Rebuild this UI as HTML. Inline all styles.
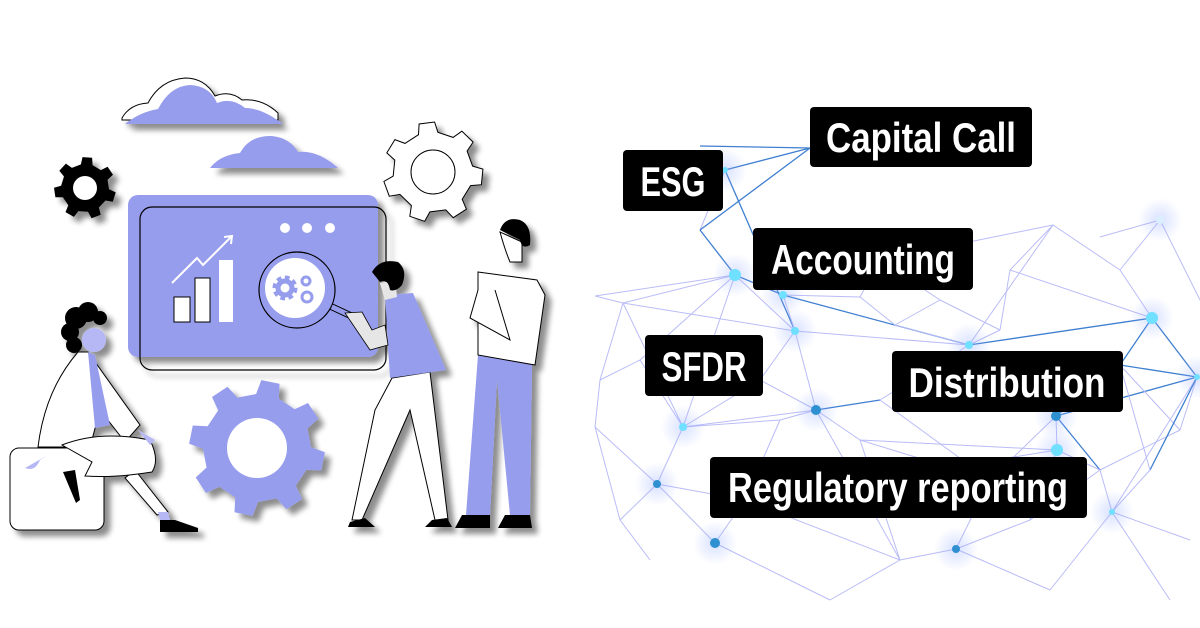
<!DOCTYPE html>
<html><head><meta charset="utf-8"><style>
html,body{margin:0;padding:0;background:#fff;}
svg{display:block}
.lbl{font-family:"Liberation Sans",sans-serif;font-weight:bold;fill:#fff;}
</style></head><body>
<svg width="1200" height="628" viewBox="0 0 1200 628" xmlns="http://www.w3.org/2000/svg">
<defs>
<filter id="sh" x="-20%" y="-20%" width="150%" height="150%"><feGaussianBlur in="SourceAlpha" stdDeviation="3"/><feOffset dx="6" dy="6"/><feComponentTransfer><feFuncA type="linear" slope="0.45"/></feComponentTransfer><feMerge><feMergeNode/><feMergeNode in="SourceGraphic"/></feMerge></filter>
<radialGradient id="glow"><stop offset="0" stop-color="#8fa8ff" stop-opacity="0.35"/><stop offset="1" stop-color="#8fa8ff" stop-opacity="0"/></radialGradient>
</defs>

<g id="net" fill="none" stroke-width="1"></g>

<g filter="url(#sh)">
<path d="M122,118 Q130,104 148,103 Q160,80 185,78 Q205,78 215,96 Q230,90 242,100 Q262,98 278,113 L278,120 L122,120 Z" fill="#fff" stroke="#000" stroke-width="1"/>
<path d="M125,124 Q140,112 158,109 Q170,86 190,85 Q210,86 217,103 Q232,97 245,108 Q262,108 283,124 Z" fill="#979ded"/>
<path d="M210,168 Q220,155 240,153 Q250,135 272,136 Q290,138 298,152 Q318,150 338,168 Z" fill="#979ded"/>
</g>
<g id="gears"></g>
<g filter="url(#sh)">
<rect x="128" y="195" width="250" height="162" rx="10" fill="#979ded"/>
<rect x="140" y="207" width="246" height="163" rx="12" fill="none" stroke="#000" stroke-width="1.2"/>
<circle cx="285" cy="228" r="5" fill="#fff"/><circle cx="307" cy="228" r="5" fill="#fff"/><circle cx="330" cy="228" r="5" fill="#fff"/>
<rect x="174" y="297" width="16" height="25" fill="#fff" stroke="#000"/>
<rect x="195" y="278" width="15" height="44" fill="#fff" stroke="#000"/>
<rect x="219" y="260" width="14" height="62" fill="#fff"/>
<polyline points="172,283 197,258 203,265 232,236" fill="none" stroke="#fff" stroke-width="2"/>
<polyline points="224,237 232,236 231,244" fill="none" stroke="#fff" stroke-width="2"/>
<line x1="330" y1="306" x2="360" y2="320" stroke="#000" stroke-width="7"/>
<line x1="330" y1="306" x2="360" y2="320" stroke="#979ded" stroke-width="5"/>
<circle cx="297" cy="290" r="38" fill="#979ded" stroke="#000" stroke-width="1.2"/>
<circle cx="295" cy="288" r="30" fill="#fff"/>
<circle cx="285" cy="288" r="9" fill="none" stroke="#979ded" stroke-width="7" stroke-dasharray="4 3"/>
<circle cx="285" cy="288" r="7" fill="none" stroke="#979ded" stroke-width="5"/>
<circle cx="306" cy="281" r="4" fill="none" stroke="#979ded" stroke-width="3"/>
<circle cx="307" cy="297" r="5" fill="none" stroke="#979ded" stroke-width="3"/>

<rect x="10" y="448" width="94" height="82" rx="9" fill="#fff" stroke="#000"/>
<path d="M135,470 L168,512 L157,515 L125,478 Z" fill="#fff" stroke="#000"/>
<path d="M158,512 L168,512 L170,520 L160,520 Z" fill="#b5b8f5"/>
<path d="M160,520 L175,520 L198,528 L198,532 L160,532 Z" fill="#000"/>
<path d="M38,447 Q45,390 78,352 L88,352 L140,425 L125,442 L100,410 L90,447 Z" fill="#fff" stroke="#000"/>
<path d="M88,352 L95,355 L110,425 L95,428 Z" fill="#979ded"/>
<path d="M62,445 Q100,430 150,440 Q160,460 152,472 Q115,478 85,476 L92,462 Z" fill="#fff" stroke="#000"/>
<path d="M63,472 L75,470 L80,500 L76,503 Z" fill="#000"/>
<path d="M40,460 Q35,472 25,468 L48,455 Z" fill="#b5b8f5"/>
<path d="M138,430 L155,440 L150,445 Z" fill="#b5b8f5"/>
<circle cx="94" cy="340" r="12" fill="#b5b8f5"/>
<circle cx="76" cy="318" r="11" fill="#000"/><circle cx="88" cy="312" r="10" fill="#000"/><circle cx="70" cy="332" r="9" fill="#000"/><circle cx="74" cy="345" r="8" fill="#000"/><circle cx="100" cy="318" r="7" fill="#000"/>

<path d="M392,378 L430,372 L448,520 L435,520 L410,410 L362,520 L352,520 L375,410 Z" fill="#fff" stroke="#000"/>
<path d="M350,522 L365,518 L375,527 L348,527 Z M432,520 L447,518 L452,527 L425,527 Z" fill="#000"/>
<path d="M385,295 L413,293 L446,370 L390,378 Z" fill="#979ded"/>
<path d="M345,313 L362,312 L372,330 L385,325 L388,345 L370,350 Z" fill="#e6e6e6" stroke="#000" stroke-width="0.8"/>
<path d="M380,283 L395,280 L397,297 L385,300 Z" fill="#e6e6e6"/>
<path d="M372,272 Q380,258 398,262 Q408,270 402,285 Q396,292 390,290 Q388,278 380,282 Z" fill="#000"/>

<path d="M478,355 L532,365 L530,515 L510,515 L497,380 L490,515 L466,515 Z" fill="#979ded"/>
<path d="M462,515 L490,515 L490,528 L455,528 Z M505,515 L530,515 L532,528 L498,528 Z" fill="#000"/>
<path d="M478,272 L537,280 L545,295 L535,365 L478,355 Z" fill="#fff" stroke="#000"/>
<path d="M478,290 L470,318 L510,340 L495,290" fill="#fff" stroke="#000"/>
<path d="M500,232 Q505,250 510,262 L522,262 L522,242 Z" fill="#fff" stroke="#000"/>
<path d="M500,230 Q505,216 520,220 Q532,225 530,245 Q522,250 520,240 L510,235 Z" fill="#000"/>
</g>

<g>
<rect x="810" y="107" width="222" height="60" rx="4" fill="#000"/>
<text class="lbl" x="921" y="152" font-size="42" text-anchor="middle" textLength="190" lengthAdjust="spacingAndGlyphs">Capital Call</text>
<rect x="623" y="150" width="100" height="61" rx="4" fill="#000"/>
<text class="lbl" x="673" y="196" font-size="42" text-anchor="middle" textLength="65" lengthAdjust="spacingAndGlyphs">ESG</text>
<rect x="753" y="228" width="220" height="62" rx="4" fill="#000"/>
<text class="lbl" x="863" y="274" font-size="42" text-anchor="middle" textLength="184" lengthAdjust="spacingAndGlyphs">Accounting</text>
<rect x="645" y="335" width="118" height="61" rx="4" fill="#000"/>
<text class="lbl" x="704" y="381" font-size="42" text-anchor="middle" textLength="85" lengthAdjust="spacingAndGlyphs">SFDR</text>
<rect x="892" y="351" width="231" height="61" rx="4" fill="#000"/>
<text class="lbl" x="1007" y="397" font-size="42" text-anchor="middle" textLength="197" lengthAdjust="spacingAndGlyphs">Distribution</text>
<rect x="710" y="457" width="377" height="61" rx="4" fill="#000"/>
<text class="lbl" x="898" y="502" font-size="42" text-anchor="middle" textLength="340" lengthAdjust="spacingAndGlyphs">Regulatory reporting</text>
</g>
</svg>
<script>
var NS="http://www.w3.org/2000/svg";
function gear(cx,cy,ro,ri,n,rot){var d="";for(var i=0;i<n;i++){var a=rot+i*2*Math.PI/n,s=Math.PI/n;var pts=[[ri,a-s*0.55],[ro,a-s*0.35],[ro,a+s*0.35],[ri,a+s*0.55],[ri,a+s*1.45]];pts.forEach(function(p,j){d+=(i==0&&j==0?"M":"L")+(cx+p[0]*Math.cos(p[1])).toFixed(1)+","+(cy+p[0]*Math.sin(p[1])).toFixed(1);});}return d+"Z";}
var g=document.getElementById("gears");
function add(d,fill,stroke,hole,cx,cy,hs){var grp=document.createElementNS(NS,"g");grp.setAttribute("filter","url(#sh)");var p=document.createElementNS(NS,"path");p.setAttribute("d",d);p.setAttribute("fill",fill);if(stroke){p.setAttribute("stroke",stroke);}grp.appendChild(p);var c=document.createElementNS(NS,"circle");c.setAttribute("cx",cx);c.setAttribute("cy",cy);c.setAttribute("r",hole);c.setAttribute("fill","#fff");if(hs)c.setAttribute("stroke","#000");grp.appendChild(c);g.appendChild(grp);}
add(gear(85,188,31,24,7,0.3),"#000",null,12,85,188,false);
add(gear(433,172,50,40,7,0.1),"#fff","#000",22,433,172,true);
add(gear(257,448,68,54,8,0.2),"#979ded",null,30,257,448,false);
var net=document.getElementById("net");
var N={a:[700,146],b:[810,148],c:[725,170],d:[735,275],e:[623,303],f:[783,295],g:[795,331],h:[816,410],i:[860,297],j:[895,325],k:[969,345],l:[1152,318],m:[1197,377],n:[1056,416],o:[1057,450],p:[683,427],q:[657,484],r:[715,543],s:[956,549],t:[1112,512],u:[1120,270],v:[1160,220],w:[1053,225],x:[1100,237],y:[595,296],z:[595,427],A:[745,500],B:[600,380],C:[1120,365],D:[1190,540],E:[990,480],F:[860,440],G:[780,420],H:[1200,300],I:[650,560],J:[830,600],K:[1050,590],L:[1170,600],M:[700,230],N:[880,260],O:[940,300],P:[1000,330],Q:[1180,430],R:[1100,470],S:[620,520],T:[900,560],U:[1010,270],V:[640,360],W:[880,400],X:[1150,470],Y:[760,380],Z:[1030,520]};
var E=[["a","b",1],["c","b",1],["c","g",1],["c","M",0],["M","d",1],["d","e",0],["d","f",1],["d","g",0],["b","M",1],["f","g",0],["f","k",1],["g","k",0],["k","l",1],["l","m",1],["l","C",1],["m","C",1],["m","n",1],["n","o",0],["m","t",0],["e","p",0],["d","p",0],["p","q",0],["q","r",0],["p","h",0],["h","F",0],["g","h",0],["h","G",0],["G","A",0],["A","r",0],["r","J",0],["q","S",0],["S","I",0],["B","e",0],["B","z",0],["z","q",0],["k","w",0],["w","u",0],["u","v",0],["v","H",0],["u","l",0],["x","v",0],["w","N",0],["N","O",0],["O","P",0],["P","k",0],["n","E",0],["E","F",0],["E","s",0],["s","T",0],["s","K",0],["t","K",0],["t","D",0],["t","L",0],["Q","m",0],["Q","R",0],["R","t",0],["n","R",1],["o","A",0],["F","T",0],["i","f",0],["i","N",0],["j","i",0],["j","k",0],["y","d",0],["y","e",0],["j","O",0],["C","Q",0],["o","R",0],["h","T",0],["G","p",0],["z","S",0],["A","T",0],["J","T",0],["U","w",0],["U","P",0],["U","l",0],["V","p",0],["V","B",0],["V","d",0],["W","h",1],["W","k",0],["W","E",0],["X","m",1],["X","t",0],["X","C",0],["Y","g",0],["Y","h",0],["Y","p",0],["Z","s",0],["Z","o",0],["Z","R",0],["e","g",0],["q","A",0],["F","o",0],["n","C",1]];
E.forEach(function(e){var l=document.createElementNS(NS,"line"),A=N[e[0]],B=N[e[1]];l.setAttribute("x1",A[0]);l.setAttribute("y1",A[1]);l.setAttribute("x2",B[0]);l.setAttribute("y2",B[1]);l.setAttribute("stroke",e[2]?"#3f7fd0":"#b9bcf7");l.setAttribute("stroke-width",e[2]?1.3:1);net.appendChild(l);});
[["d",6,"#6fe0ff"],["l",6,"#6fe0ff"],["h",5,"#2e90d0"],["n",5,"#2e90d0"],["o",6,"#6fe0ff"],["q",4,"#2e90d0"],["r",5,"#2e90d0"],["s",4,"#2e90d0"],["p",4,"#6fe0ff"],["f",4,"#6fe0ff"],["g",4,"#6fe0ff"],["k",4,"#6fe0ff"],["c",3,"#6fe0ff"],["t",3,"#6fe0ff"],["m",3,"#6fe0ff"],["v",4,"#dbeeff"]].forEach(function(c){var P=N[c[0]];var gl=document.createElementNS(NS,"circle");gl.setAttribute("cx",P[0]);gl.setAttribute("cy",P[1]);gl.setAttribute("r",22);gl.setAttribute("fill","url(#glow)");net.appendChild(gl);var d=document.createElementNS(NS,"circle");d.setAttribute("cx",P[0]);d.setAttribute("cy",P[1]);d.setAttribute("r",c[1]);d.setAttribute("fill",c[2]);net.appendChild(d);});
</script>
</body></html>
